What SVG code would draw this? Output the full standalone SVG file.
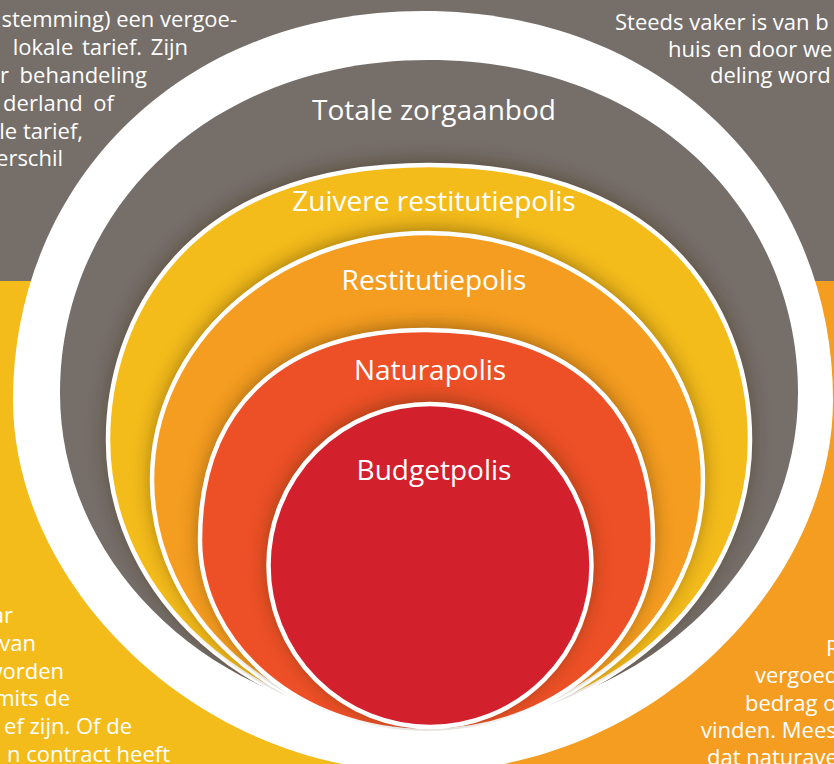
<svg xmlns="http://www.w3.org/2000/svg" width="834" height="764" viewBox="0 0 834 764">
<style>
.bt{font-family:"Open Sans","Liberation Sans",sans-serif;font-size:22px;fill:#ffffff}
.lb{font-family:"Open Sans","Liberation Sans",sans-serif;font-size:28px;fill:#ffffff;text-anchor:middle}
.ring{stroke:#ffffff;stroke-width:4.5}
.sh{fill:#3a2810;opacity:0.5;filter:url(#blur)}
</style>
<defs>
<filter id="blur" x="-20%" y="-20%" width="140%" height="140%"><feGaussianBlur stdDeviation="10"/></filter>
<path id="pW" d="M13,400 C13,186 177,11 423,11 C669,11 833,186 833,400 C833,586 648,772 423,772 C198,772 13,586 13,400 Z"/>
<path id="pG" d="M60,393 C60,210 207.6,60 429,60 C650.4,60 798,210 798,393 C798,574 632,722 429,722 C226,722 60,574 60,393 Z"/>
<path id="pY" d="M108,440 C108,324.5 179,165 429,165 C679,165 750,324.5 750,440 C750,597 605.5,726 429,726 C252.5,726 108,597 108,440 Z"/>
<path id="pO" d="M152,480 C152,343.7 275.4,233 427.5,233 C579.6,233 703,343.7 703,480 C703,616.9 579.6,728 427.5,728 C275.4,728 152,616.9 152,480 Z"/>
<path id="pN" d="M200,540 C200,403.5 286.1,330 426.5,330 C566.9,330 653,403.5 653,540 C653,645.4 551.5,731 426.5,731 C301.5,731 200,645.4 200,540 Z"/>
<circle id="pR" cx="430" cy="565.5" r="161.5"/>
<clipPath id="cG"><use href="#pG"/></clipPath>
<clipPath id="cY"><use href="#pY"/></clipPath>
<clipPath id="cO"><use href="#pO"/></clipPath>
<clipPath id="cN"><use href="#pN"/></clipPath>
</defs>
<g id="background">
<rect x="0" y="0" width="834" height="282" fill="#756e69"/>
<rect x="0" y="281" width="418" height="483" fill="#f4bc1b"/>
<rect x="417" y="281" width="417" height="483" fill="#f59d20"/>
</g>
<g id="text-top-left" class="bt" text-anchor="end">
<text x="237" y="27">stemming) een vergoe-</text>
<text x="188" y="55" word-spacing="3">lokale tarief. Zijn</text>
<text x="147" y="83" word-spacing="5">r behandeling</text>
<text x="114" y="111" word-spacing="5">derland of</text>
<text x="83" y="139">le tarief,</text>
<text x="63" y="166">erschil</text>
</g>
<g id="text-top-right" class="bt">
<text x="615" y="30">Steeds vaker is van b</text>
<text x="668" y="57">huis en door we</text>
<text x="710" y="83">deling word</text>
</g>
<g id="text-bottom-left" class="bt" text-anchor="end">
<text x="13" y="623">ar</text>
<text x="36" y="651">van</text>
<text x="64" y="679">worden</text>
<text x="70" y="706">mits de</text>
<text x="132" y="734">ef zijn. Of de</text>
<text x="170" y="762">n contract heeft</text>
</g>
<g id="text-bottom-right" class="bt">
<text x="826" y="656">R</text>
<text x="755" y="683">vergoed</text>
<text x="745" y="711">bedrag o</text>
<text x="701" y="738">vinden. Mees</text>
<text x="707" y="765">dat naturave</text>
</g>
<g id="totale-zorgaanbod">
<use href="#pW" fill="#ffffff"/>
<use href="#pG" fill="#756e69"/>
<g clip-path="url(#cG)"><use href="#pY" class="sh" transform="translate(0,-3)"/></g>
<text class="lb" x="434" y="120">Totale zorgaanbod</text>
</g>
<g id="zuivere-restitutiepolis">
<use href="#pY" class="ring" fill="#f4bc1b"/>
<g clip-path="url(#cY)"><use href="#pO" class="sh" transform="translate(0,-3)"/></g>
<text class="lb" x="434" y="211">Zuivere restitutiepolis</text>
</g>
<g id="restitutiepolis">
<use href="#pO" class="ring" fill="#f59d20"/>
<g clip-path="url(#cO)"><use href="#pN" class="sh" transform="translate(0,-3)"/></g>
<text class="lb" x="434" y="290">Restitutiepolis</text>
</g>
<g id="naturapolis">
<use href="#pN" class="ring" fill="#ed5026"/>
<g clip-path="url(#cN)"><use href="#pR" class="sh" transform="translate(0,-3)"/></g>
<text class="lb" x="430" y="380">Naturapolis</text>
</g>
<g id="budgetpolis">
<use href="#pR" class="ring" fill="#d2202d"/>
<text class="lb" x="434" y="480">Budgetpolis</text>
</g>
</svg>
